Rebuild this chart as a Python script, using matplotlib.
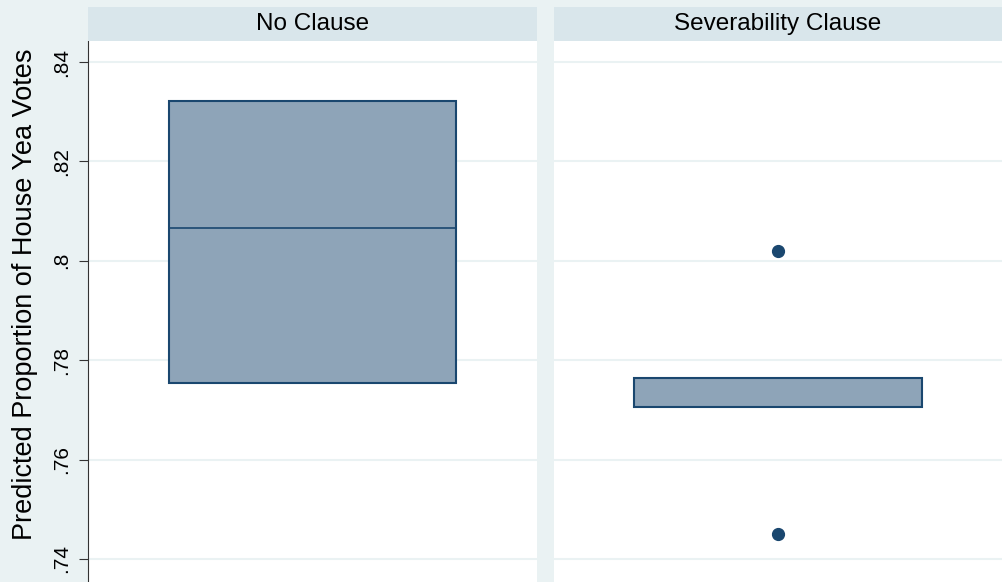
import matplotlib
matplotlib.use("Agg")
import matplotlib.pyplot as plt

plt.rcParams['font.family'] = ['Liberation Sans', 'DejaVu Sans']

# data
panels = ["No Clause", "Severability Clause"]
q1 = [0.7754, 0.7706]
med = [0.8066, 0.7706]
q3 = [0.8322, 0.7764]
outliers = [[], [0.8020, 0.7450]]
yticks = [0.74, 0.76, 0.78, 0.80, 0.82, 0.84]
ytick_labels = [".74", ".76", ".78", ".8", ".82", ".84"]
ylabel = "Predicted Proportion of House Yea Votes"

bg = '#eaf2f3'
strip_col = '#d9e6eb'
navy = '#1a476f'
fill = '#8ea4b8'

W, H = 1002, 582
fig = plt.figure(figsize=(W / 100, H / 100), dpi=100, facecolor=bg)

# panel extents in pixels (left, right)
extents = [(88, 537), (554, 1002)]
top_px = 41
strip_top = 7

for i, (l, r) in enumerate(extents):
    ax = fig.add_axes([l / W, 0, (r - l) / W, (H - top_px) / H])
    ax.set_facecolor('white')
    ax.set_xlim(-0.5, 0.5)
    ax.set_ylim(0.73537, 0.84423)
    for yv in yticks:
        ax.axhline(yv, color=bg, lw=1.5, zorder=0)
    stats = [{'med': med[i], 'q1': q1[i], 'q3': q3[i],
              'whislo': q1[i], 'whishi': q3[i], 'fliers': outliers[i]}]
    ax.bxp(stats, positions=[0], widths=0.641, patch_artist=True,
           showcaps=False,
           boxprops=dict(facecolor=fill, edgecolor=navy, linewidth=1.5),
           medianprops=dict(color=navy, linewidth=1.2),
           whiskerprops=dict(color=navy, linewidth=1.2),
           flierprops=dict(marker='o', markerfacecolor=navy,
                           markeredgecolor=navy, markersize=8.5))
    ax.set_xticks([])
    for s in ['top', 'right', 'bottom']:
        ax.spines[s].set_visible(False)
    if i == 0:
        ax.spines['left'].set_color('#333333')
        ax.spines['left'].set_linewidth(0.8)
        ax.set_yticks(yticks)
        ax.set_yticklabels(ytick_labels, rotation=90, va='center', fontsize=15)
        ax.tick_params(axis='y', length=6.5, width=0.8, color='#333333', pad=6)
        ax.set_ylabel(ylabel, fontsize=19.5)
        ax.yaxis.set_label_coords(-0.112, 0.532)
    else:
        ax.spines['left'].set_visible(False)
        ax.set_yticks([])

    # strip header
    sax = fig.add_axes([l / W, (H - top_px) / H, (r - l) / W, (top_px - strip_top) / H])
    sax.set_facecolor(strip_col)
    sax.set_xticks([])
    sax.set_yticks([])
    for s in sax.spines.values():
        s.set_visible(False)
    sax.text(0.5, 0.5, panels[i], ha='center', va='center', fontsize=17.5,
             transform=sax.transAxes)

fig.savefig("out.png", dpi=100, facecolor=bg)
